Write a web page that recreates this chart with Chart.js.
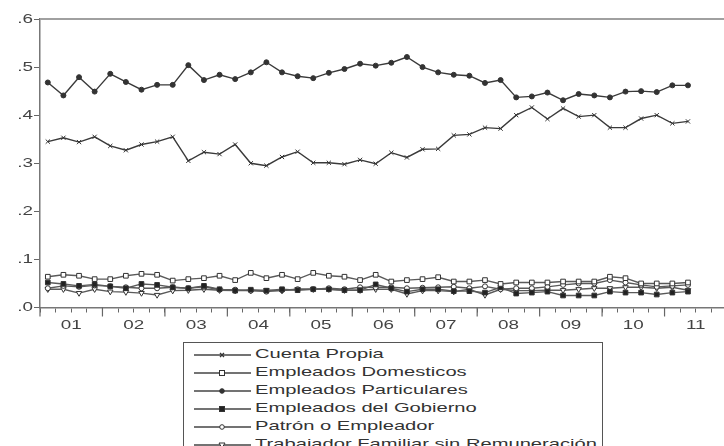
<!DOCTYPE html>
<html>
<head>
<meta charset="utf-8">
<script src="https://cdn.jsdelivr.net/npm/chart.js@4.4.1/dist/chart.umd.min.js"></script>
<style>
  html, body { margin: 0; padding: 0; background: #fff; overflow: hidden; width: 724px; height: 446px; }
  #wrap { position: absolute; left: 0; top: 0; width: 732px; height: 340px; }
  #legend {
    position: absolute; left: 183px; top: 342px; width: 420px; height: 120px;
    border: 1px solid #555; border-bottom: none;
    padding: 2px 0 0 8px; box-sizing: border-box;
    font-family: "Liberation Sans", Arial, sans-serif; font-size: 13px; color: #333;
    background: #fff;
  }
  #legend .row { height: 18px; line-height: 18px; white-space: nowrap; }
  #legend svg { vertical-align: middle; margin-right: 3px; }
  #legend .txt { display: inline-block; transform: scaleX(1.55); transform-origin: left center; }
</style>
</head>
<body>
<div id="wrap"><canvas id="chart" width="732" height="340"></canvas></div>
<div id="legend"></div>
<script>
// quarters 2001Q1 .. 2011Q4 (data ends 2011Q2)
const years = ["01", "02", "03", "04", "05", "06", "07", "08", "09", "10", "11"];
const quarters = [];
years.forEach(y => { for (let q = 1; q <= 4; q++) quarters.push(y + "Q" + q); });

const cuentaPropia = [0.345, 0.353, 0.344, 0.355, 0.336, 0.327, 0.339, 0.345, 0.355, 0.305,
  0.323, 0.319, 0.339, 0.300, 0.295, 0.313, 0.324, 0.301, 0.301, 0.298,
  0.307, 0.299, 0.322, 0.312, 0.329, 0.330, 0.358, 0.360, 0.374, 0.372,
  0.400, 0.416, 0.392, 0.414, 0.397, 0.400, 0.374, 0.374, 0.393, 0.400,
  0.383, 0.387];
const empDomesticos = [0.064, 0.068, 0.066, 0.059, 0.059, 0.066, 0.070, 0.068, 0.056, 0.059,
  0.061, 0.066, 0.057, 0.072, 0.061, 0.068, 0.059, 0.072, 0.066, 0.064,
  0.057, 0.068, 0.054, 0.057, 0.059, 0.063, 0.054, 0.054, 0.057, 0.049,
  0.052, 0.052, 0.052, 0.054, 0.054, 0.054, 0.064, 0.061, 0.050, 0.050,
  0.050, 0.052];
const empParticulares = [0.468, 0.441, 0.479, 0.449, 0.486, 0.469, 0.453, 0.463, 0.463, 0.504,
  0.473, 0.484, 0.475, 0.489, 0.510, 0.489, 0.481, 0.477, 0.488, 0.496,
  0.507, 0.503, 0.509, 0.521, 0.500, 0.489, 0.484, 0.482, 0.467, 0.473,
  0.437, 0.439, 0.447, 0.431, 0.444, 0.441, 0.437, 0.449, 0.450, 0.448,
  0.462, 0.462];
const empGobierno = [0.052, 0.049, 0.045, 0.048, 0.044, 0.040, 0.049, 0.047, 0.042, 0.040,
  0.045, 0.038, 0.035, 0.037, 0.035, 0.038, 0.036, 0.038, 0.038, 0.036,
  0.036, 0.048, 0.040, 0.033, 0.038, 0.038, 0.034, 0.034, 0.031, 0.042,
  0.029, 0.031, 0.033, 0.025, 0.025, 0.025, 0.033, 0.031, 0.031, 0.027,
  0.031, 0.033];
const patronEmpleador = [0.040, 0.045, 0.043, 0.046, 0.044, 0.042, 0.040, 0.040, 0.042, 0.040,
  0.043, 0.037, 0.037, 0.035, 0.033, 0.036, 0.038, 0.038, 0.040, 0.038,
  0.042, 0.042, 0.042, 0.040, 0.041, 0.042, 0.043, 0.040, 0.044, 0.038,
  0.040, 0.040, 0.043, 0.047, 0.050, 0.050, 0.057, 0.052, 0.047, 0.043,
  0.045, 0.047];
const trabFamiliar = [0.038, 0.038, 0.030, 0.038, 0.033, 0.032, 0.030, 0.026, 0.035, 0.036,
  0.038, 0.036, 0.035, 0.035, 0.036, 0.035, 0.038, 0.038, 0.038, 0.036,
  0.036, 0.038, 0.038, 0.028, 0.035, 0.035, 0.033, 0.038, 0.026, 0.038,
  0.035, 0.035, 0.036, 0.036, 0.038, 0.040, 0.040, 0.042, 0.042, 0.040,
  0.042, 0.036];
const yTicks = [0, 0.1, 0.2, 0.3, 0.4, 0.5, 0.6];

const series = [
  { label: "Cuenta Propia", data: cuentaPropia, style: "crossRot", r: 3, fill: "#333", line: "#3a3a3a" },
  { label: "Empleados Domesticos", data: empDomesticos, style: "rect", r: 3.3, fill: "#fff", line: "#5a5a5a" },
  { label: "Empleados Particulares", data: empParticulares, style: "circle", r: 2.5, fill: "#333", line: "#3a3a3a" },
  { label: "Empleados del Gobierno", data: empGobierno, style: "rect", r: 3.3, fill: "#222", line: "#5a5a5a" },
  { label: "Patrón o Empleador", data: patronEmpleador, style: "circle", r: 2.5, fill: "#fff", line: "#5a5a5a" },
  { label: "Trabajador Familiar sin Remuneración", data: trabFamiliar, style: "triangle", r: 3.2, fill: "#fff", line: "#5a5a5a", rot: 180 }
];

const STRETCH = 1.45;   // the original's lettering is drawn wide
const FONT = "13px 'Liberation Sans', Arial, sans-serif";

function wideText(ctx, text, x, y, align) {
  ctx.save();
  ctx.translate(x, y);
  ctx.scale(STRETCH, 1);
  ctx.textAlign = align;
  ctx.textBaseline = "middle";
  ctx.fillText(text, 0, 0);
  ctx.restore();
}

// Extra frame pieces: top border, longer year ticks, wide axis labels
const framePlugin = {
  id: "frame",
  afterDraw(chart) {
    const { ctx, chartArea, scales } = chart;
    const x = scales.x, y = scales.y;
    const half = (x.getPixelForValue(1) - x.getPixelForValue(0)) / 2;
    ctx.save();
    ctx.strokeStyle = "#a0a0a0";
    ctx.lineWidth = 2;
    ctx.beginPath();
    ctx.moveTo(chartArea.left, chartArea.top);
    ctx.lineTo(chartArea.right + 10, chartArea.top);
    ctx.stroke();

    ctx.strokeStyle = "#666";
    ctx.lineWidth = 1.2;
    for (let i = 0; i < quarters.length; i += 4) {
      const px = x.getPixelForValue(i) - half;
      ctx.beginPath();
      ctx.moveTo(px, chartArea.bottom);
      ctx.lineTo(px, chartArea.bottom + 9);
      ctx.stroke();
    }

    ctx.fillStyle = "#444";
    ctx.font = FONT;
    yTicks.forEach(v => {
      wideText(ctx, v.toFixed(1).replace(/^0/, ""), chartArea.left - 7, y.getPixelForValue(v), "right");
    });
    years.forEach((yr, k) => {
      wideText(ctx, yr, x.getPixelForValue(k * 4 + 1) + half, chartArea.bottom + 18, "center");
    });
    ctx.restore();
  }
};

const ctx = document.getElementById("chart").getContext("2d");
const chart = new Chart(ctx, {
  type: "line",
  data: {
    labels: quarters,
    datasets: series.map(s => ({
      label: s.label,
      data: s.data,
      borderColor: s.line,
      borderWidth: 1.4,
      pointStyle: s.style,
      pointRadius: s.r,
      pointRotation: s.rot || 0,
      pointBackgroundColor: s.fill,
      pointBorderColor: "#333",
      pointBorderWidth: 1,
      tension: 0
    }))
  },
  options: {
    responsive: false,
    animation: false,
    devicePixelRatio: 1,
    layout: { padding: { left: 0, right: 3.4, top: 19, bottom: 0 } },
    plugins: { legend: { display: false }, tooltip: { enabled: false } },
    scales: {
      x: {
        type: "category",
        offset: true,
        afterFit: s => { s.height = 32.5; },
        grid: { offset: true, drawOnChartArea: false, drawTicks: true, tickLength: 5, tickColor: "#666", tickWidth: 1 },
        border: { display: true, color: "#777", width: 1.5 },
        ticks: { display: false, autoSkip: false }
      },
      y: {
        min: 0, max: 0.6,
        afterFit: s => { s.width = 40; },
        afterBuildTicks: s => { s.ticks = yTicks.map(v => ({ value: v })); },
        grid: { drawOnChartArea: false, drawTicks: true, tickLength: 6, tickColor: "#666" },
        border: { display: true, color: "#777", width: 1.5 },
        ticks: { display: false }
      }
    }
  },
  plugins: [framePlugin]
});

// HTML legend
const legendEl = document.getElementById("legend");
const svgNS = "http://www.w3.org/2000/svg";
series.forEach(s => {
  const row = document.createElement("div");
  row.className = "row";
  const svg = document.createElementNS(svgNS, "svg");
  svg.setAttribute("width", "60");
  svg.setAttribute("height", "12");
  const ln = document.createElementNS(svgNS, "line");
  ln.setAttribute("x1", "2"); ln.setAttribute("x2", "59");
  ln.setAttribute("y1", "6"); ln.setAttribute("y2", "6");
  ln.setAttribute("stroke", "#444"); ln.setAttribute("stroke-width", "1.3");
  svg.appendChild(ln);
  let m;
  if (s.style === "crossRot") {
    m = document.createElementNS(svgNS, "path");
    m.setAttribute("d", "M28 4 L32 8 M32 4 L28 8");
    m.setAttribute("stroke", "#333"); m.setAttribute("stroke-width", "1.3");
  } else if (s.style === "rect") {
    m = document.createElementNS(svgNS, "rect");
    m.setAttribute("x", "27.5"); m.setAttribute("y", "3.5");
    m.setAttribute("width", "5"); m.setAttribute("height", "5");
    m.setAttribute("fill", s.fill); m.setAttribute("stroke", "#333");
  } else if (s.style === "circle") {
    m = document.createElementNS(svgNS, "circle");
    m.setAttribute("cx", "30"); m.setAttribute("cy", "6"); m.setAttribute("r", "2.3");
    m.setAttribute("fill", s.fill); m.setAttribute("stroke", "#333");
  } else {
    m = document.createElementNS(svgNS, "path");
    m.setAttribute("d", "M27 4 L33 4 L30 9 Z");
    m.setAttribute("fill", "#fff"); m.setAttribute("stroke", "#333");
  }
  svg.appendChild(m);
  row.appendChild(svg);
  const t = document.createElement("span");
  t.className = "txt";
  t.textContent = s.label;
  row.appendChild(t);
  legendEl.appendChild(row);
});
</script>
</body>
</html>
